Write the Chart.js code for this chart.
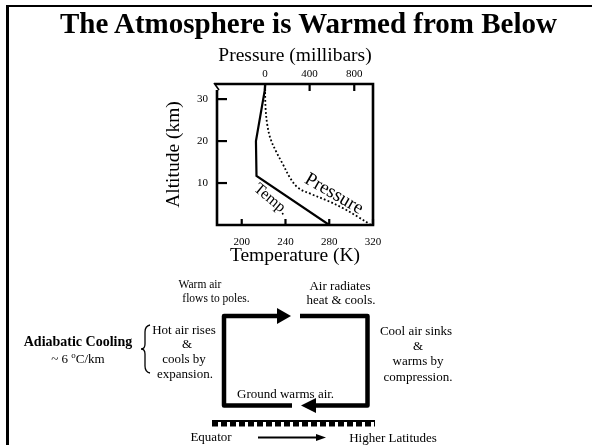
<!DOCTYPE html>
<html>
<head>
<meta charset="utf-8">
<script src="https://cdn.jsdelivr.net/npm/chart.js@4"></script>
<style>
  html, body { margin: 0; padding: 0; background: #fff; }
  #wrap { position: relative; width: 592px; height: 445px; overflow: hidden; background: #fff; }
  #frame { position: absolute; left: 6px; top: 5px; width: 700px; height: 600px; border-left: 3px solid #000; border-top: 2px solid #000; }
  #c { position: absolute; left: 0; top: 0; }
  #ov { position: absolute; left: 0; top: 0; pointer-events: none; }
  #ov text { font-family: 'Liberation Serif', 'Times New Roman', serif; fill: #000; }
</style>
</head>
<body>
<div id="wrap">
  <div id="frame"></div>
  <canvas id="c" width="592" height="445"></canvas>
  <svg id="ov" width="592" height="445" viewBox="0 0 592 445">
    <text x="308.5" y="32.5" text-anchor="middle" font-size="29" font-weight="bold">The Atmosphere is Warmed from Below</text>

    <text x="200" y="288.3" text-anchor="middle" font-size="11.5">Warm air</text>
    <text x="216" y="302.3" text-anchor="middle" font-size="11.5">flows to poles.</text>
    <text x="340" y="290" text-anchor="middle" font-size="13">Air radiates</text>
    <text x="341" y="304.3" text-anchor="middle" font-size="13">heat &amp; cools.</text>
    <text x="416" y="335" text-anchor="middle" font-size="13">Cool air sinks</text>
    <text x="418" y="350" text-anchor="middle" font-size="13">&amp;</text>
    <text x="418" y="365" text-anchor="middle" font-size="13">warms by</text>
    <text x="418" y="381" text-anchor="middle" font-size="13">compression.</text>
    <text x="237" y="397.7" text-anchor="start" font-size="13">Ground warms air.</text>
    <text x="78" y="346" text-anchor="middle" font-size="14" font-weight="bold">Adiabatic Cooling</text>
    <text x="78" y="362.7" text-anchor="middle" font-size="13">~ 6 <tspan dy="-5" font-size="9">o</tspan><tspan dy="5">C/km</tspan></text>
    <text x="184" y="334" text-anchor="middle" font-size="13">Hot air rises</text>
    <text x="187" y="348" text-anchor="middle" font-size="13">&amp;</text>
    <text x="184" y="363.3" text-anchor="middle" font-size="13">cools by</text>
    <text x="185" y="377.7" text-anchor="middle" font-size="13">expansion.</text>
    <text x="211" y="440.7" text-anchor="middle" font-size="13">Equator</text>
    <text x="393" y="442.3" text-anchor="middle" font-size="13">Higher Latitudes</text>

    <!-- circulation loop -->
    <path d="M292,405.5 L224,405.5 L224,316 L278,316" fill="none" stroke="#000" stroke-width="4.5" stroke-linejoin="round"/>
    <polygon points="277,308 291,316 277,324" fill="#000"/>
    <path d="M300,316 L367.5,316 L367.5,405.5 L315,405.5" fill="none" stroke="#000" stroke-width="4.5" stroke-linejoin="round"/>
    <polygon points="316,398 301,405.5 316,413" fill="#000"/>
    <!-- ground -->
    <line x1="212" y1="421" x2="375" y2="421" stroke="#000" stroke-width="2"/>
    <line x1="212" y1="424" x2="375" y2="424" stroke="#000" stroke-width="5" stroke-dasharray="6,3"/>
    <!-- equator arrow -->
    <line x1="258" y1="437.5" x2="318" y2="437.5" stroke="#000" stroke-width="2"/>
    <polygon points="316,434 326,437.5 316,441" fill="#000"/>
    <!-- brace -->
    <path d="M150,325 Q145,326 145,332 L145,344 Q145,349 141,349 Q145,349 145,354 L145,366 Q145,372 150,373" fill="none" stroke="#000" stroke-width="1.3"/>
  </svg>
</div>
<script>
// ---- data ----
const tempK    = [280, 213.5, 213, 221, 221.5];
const tempAlt  = [0, 11.7, 20, 32, 33.5];
const pressMb  = [950, 830, 700, 560, 420, 300, 230, 160, 100, 50, 20, 5, 0];
const pressAlt = [0, 2, 4, 5.8, 7.3, 8.8, 11, 14.5, 17.5, 20.5, 24, 28, 33.6];
const tempTicks  = [200, 240, 280, 320];
const pressTicks = [0, 400, 800];
const altTicks   = [10, 20, 30];

const SERIF = "'Liberation Serif', 'Times New Roman', serif";
Chart.defaults.font.family = SERIF;
Chart.defaults.color = '#000';

const decor = {
  id: 'decor',
  afterDatasetsDraw(chart) {
    const { ctx, chartArea: a, scales } = chart;
    const seg = (x1, y1, x2, y2) => { ctx.beginPath(); ctx.moveTo(x1, y1); ctx.lineTo(x2, y2); ctx.stroke(); };
    ctx.save();
    ctx.strokeStyle = '#000';
    ctx.lineWidth = 2.6;
    ctx.beginPath();
    ctx.moveTo(a.left - 2, a.top);
    ctx.lineTo(a.right, a.top);
    ctx.lineTo(a.right, a.bottom);
    ctx.lineTo(a.left, a.bottom);
    ctx.lineTo(a.left, a.top + 6);
    ctx.stroke();
    ctx.lineWidth = 1.6;
    seg(a.left - 3, a.top - 1, a.left + 2, a.top + 6);
    ctx.lineWidth = 2.2;
    altTicks.forEach(v => { const y = scales.y.getPixelForValue(v); seg(a.left, y, a.left + 10, y); });
    tempTicks.forEach(v => { const x = scales.x.getPixelForValue(v); seg(x, a.bottom, x, a.bottom - 6); });
    pressTicks.forEach(v => { const x = scales.x2.getPixelForValue(v); seg(x, a.top, x, a.top + 7); });
    // curve labels
    ctx.fillStyle = '#000';
    ctx.textAlign = 'center';
    ctx.textBaseline = 'middle';
    const lab = (txt, t, alt, ang, size) => {
      ctx.save();
      ctx.translate(scales.x.getPixelForValue(t), scales.y.getPixelForValue(alt));
      ctx.rotate(ang * Math.PI / 180);
      ctx.font = size + 'px ' + SERIF;
      ctx.fillText(txt, 0, 0);
      ctx.restore();
    };
    lab('Pressure', 284.3, 7.4, 30, 19);
    lab('Temp.', 226.8, 6.1, 40, 16);
    ctx.restore();
  }
};

const titleFont = { size: 19.5, family: SERIF };
const tickFont = { size: 11, family: SERIF };

new Chart(document.getElementById('c'), {
  type: 'line',
  data: {
    datasets: [
      {
        label: 'Temp.',
        data: tempK.map((v, i) => ({ x: v, y: tempAlt[i] })),
        xAxisID: 'x', yAxisID: 'y',
        borderColor: '#000', borderWidth: 2.2, pointRadius: 0, tension: 0, fill: false
      },
      {
        label: 'Pressure',
        data: pressMb.map((v, i) => ({ x: v, y: pressAlt[i] })),
        xAxisID: 'x2', yAxisID: 'y',
        borderColor: '#000', borderWidth: 1.8, borderDash: [1.8, 2.2], pointRadius: 0, tension: 0.35, fill: false
      }
    ]
  },
  options: {
    responsive: false,
    animation: false,
    events: [],
    layout: { padding: { left: 161.7, right: 219, top: 44.4, bottom: 177.3 } },
    plugins: { legend: { display: false }, tooltip: { enabled: false }, title: { display: false } },
    scales: {
      x: {
        type: 'linear', position: 'bottom', min: 177.4, max: 320,
        afterBuildTicks: s => { s.ticks = tempTicks.map(v => ({ value: v })); },
        afterFit: s => { s.height = 42.7; },
        grid: { display: false, drawTicks: false },
        border: { display: false },
        ticks: { font: tickFont, padding: 11, maxRotation: 0, autoSkip: false },
        title: { display: true, text: 'Temperature (K)', font: titleFont, padding: 0 }
      },
      x2: {
        type: 'linear', position: 'top', min: -430, max: 968,
        afterBuildTicks: s => { s.ticks = pressTicks.map(v => ({ value: v })); },
        afterFit: s => { s.height = 39.6; },
        grid: { display: false, drawTicks: false },
        border: { display: false },
        ticks: { font: tickFont, padding: 3, maxRotation: 0, autoSkip: false },
        title: { display: true, text: 'Pressure (millibars)', font: titleFont, padding: 0 }
      },
      y: {
        type: 'linear', position: 'left', min: 0, max: 33.6,
        afterBuildTicks: s => { s.ticks = altTicks.map(v => ({ value: v })); },
        afterFit: s => { s.width = 55.3; },
        grid: { display: false, drawTicks: false },
        border: { display: false },
        ticks: { font: tickFont, padding: 9, autoSkip: false },
        title: { display: true, text: 'Altitude (km)', font: titleFont, padding: 0 }
      }
    }
  },
  plugins: [decor]
});
</script>
</body>
</html>
